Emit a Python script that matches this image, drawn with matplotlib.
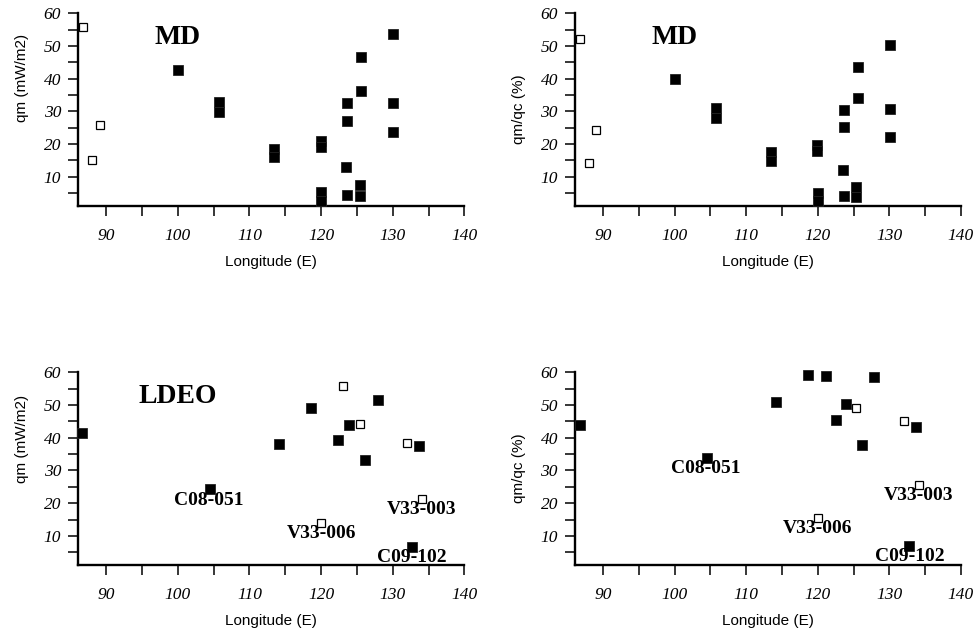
import matplotlib
matplotlib.use("Agg")
import matplotlib.pyplot as plt
from matplotlib.ticker import MultipleLocator

# MD panels: filled = standard sites, open = other sites
md_lon_fill = [100.0, 105.8, 105.8, 113.5, 113.5, 119.95, 119.95, 120.0, 120.0,
               123.6, 123.6, 123.5, 123.6, 125.6, 125.6, 125.4, 125.4, 130.05, 130.05, 130.05]
md_qm_fill = [42.6, 33.0, 29.9, 18.5, 16.0, 21.0, 19.0, 5.4, 2.6,
              32.6, 26.9, 13.0, 4.5, 46.6, 36.3, 7.4, 4.2, 53.7, 32.6, 23.8]
md_ratio_fill = [39.9, 30.9, 28.1, 17.4, 14.9, 19.6, 17.9, 5.1, 2.6,
                 30.4, 25.1, 12.0, 4.1, 43.6, 34.0, 6.8, 3.9, 50.2, 30.6, 22.1]
md_lon_open = [86.8, 89.1, 88.1]
md_qm_open = [55.9, 25.8, 15.0]
md_ratio_open = [52.2, 24.2, 14.1]

# LDEO panels
ld_lon_fill = [86.7, 104.5, 114.2, 118.6, 122.4, 123.9, 126.1, 127.9, 133.6, 132.7]
ld_qm_fill = [41.6, 24.2, 38.1, 49.2, 39.3, 44.0, 33.3, 51.4, 37.4, 6.6]
ld_lon_open = [123.0, 125.4, 132.0, 134.05, 119.95]
ld_qm_open = [55.8, 44.3, 38.3, 21.4, 13.8]

ldr_lon_fill = [86.8, 104.5, 114.2, 118.6, 121.2, 122.5, 124.0, 126.2, 127.9, 133.7, 132.8]
ldr_ratio_fill = [43.9, 33.9, 50.8, 59.2, 59.0, 45.5, 50.3, 37.9, 58.7, 43.3, 6.8]
ldr_lon_open = [125.3, 132.0, 134.1, 120.0]
ldr_ratio_open = [49.2, 45.2, 25.5, 15.6]

# station annotations (name, lon, y) per LDEO panel
ld_names = ["C08-051", "V33-006", "V33-003", "C09-102"]
ld_name_lon = [104.4, 120.0, 134.05, 132.7]
ld_name_qm = [20.9, 10.7, 18.1, 3.3]
ldr_name_lon = [104.4, 120.0, 134.1, 132.8]
ldr_name_ratio = [30.6, 12.4, 22.4, 3.6]

XLIM = (86.05, 140)
YLIM = (1.1, 60)

fig = plt.figure(figsize=(9.74, 6.33), dpi=100)
positions = {
    "tl": [0.0798, 0.675, 0.397, 0.304],
    "tr": [0.590, 0.675, 0.3966, 0.304],
    "bl": [0.0798, 0.1074, 0.397, 0.3044],
    "br": [0.590, 0.1074, 0.3966, 0.3044],
}


def style_axes(ax, ylabel, ylab_y):
    ax.set_xlim(*XLIM)
    ax.set_ylim(*YLIM)
    for s in ["top", "right"]:
        ax.spines[s].set_visible(False)
    for s in ["left", "bottom"]:
        ax.spines[s].set_linewidth(1.7)
    ax.xaxis.set_major_locator(MultipleLocator(10))
    ax.xaxis.set_minor_locator(MultipleLocator(5))
    ax.yaxis.set_major_locator(MultipleLocator(10))
    ax.yaxis.set_minor_locator(MultipleLocator(5))
    ax.tick_params(which="both", direction="out", length=7, width=1.1)
    ax.tick_params(axis="x", which="major", pad=9)
    ax.tick_params(axis="y", which="major", pad=5)
    for lab in ax.get_xticklabels() + ax.get_yticklabels():
        lab.set_fontfamily("Liberation Serif")
        lab.set_fontstyle("italic")
        lab.set_fontsize(12.5)
    ax.set_xlabel("Longitude (E)", fontsize=11, family="Liberation Sans", va="center")
    ax.xaxis.set_label_coords(0.5, -0.293)
    ax.set_ylabel(ylabel, fontsize=11, family="Liberation Sans", va="center", ha="center")
    ax.yaxis.set_label_coords(-0.145, ylab_y)


def draw_points(ax, xf, yf, xo, yo):
    ax.plot(xf, yf, ls="none", marker="s", ms=6.6, mfc="black", mec="#222222",
            mew=0.6, clip_on=False, zorder=3)
    ax.plot(xo, yo, ls="none", marker="s", ms=5.8, mfc="white", mec="black",
            mew=0.9, clip_on=False, zorder=3)


def title_text(ax, txt, y):
    ax.text(100.0, y, txt, ha="center", va="center", fontsize=20,
            family="Liberation Serif", weight="bold")


def station_labels(ax, xs, ys):
    for name, x, y in zip(ld_names, xs, ys):
        ax.text(x, y, name, ha="center", va="center", fontsize=14,
                family="Liberation Serif", weight="bold", zorder=4)


ax1 = fig.add_axes(positions["tl"])
draw_points(ax1, md_lon_fill, md_qm_fill, md_lon_open, md_qm_open)
title_text(ax1, "MD", 52.7)
style_axes(ax1, "qm (mW/m2)", 0.664)

ax2 = fig.add_axes(positions["tr"])
draw_points(ax2, md_lon_fill, md_ratio_fill, md_lon_open, md_ratio_open)
title_text(ax2, "MD", 52.7)
style_axes(ax2, "qm/qc (%)", 0.5)

ax3 = fig.add_axes(positions["bl"])
draw_points(ax3, ld_lon_fill, ld_qm_fill, ld_lon_open, ld_qm_open)
title_text(ax3, "LDEO", 52.75)
station_labels(ax3, ld_name_lon, ld_name_qm)
style_axes(ax3, "qm (mW/m2)", 0.654)

ax4 = fig.add_axes(positions["br"])
draw_points(ax4, ldr_lon_fill, ldr_ratio_fill, ldr_lon_open, ldr_ratio_open)
station_labels(ax4, ldr_name_lon, ldr_name_ratio)
style_axes(ax4, "qm/qc (%)", 0.5)

fig.savefig("out.png", dpi=100)
plt.close(fig)
